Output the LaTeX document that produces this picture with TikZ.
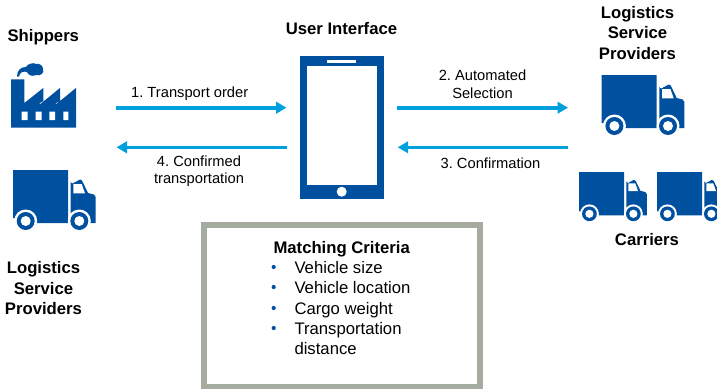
\documentclass[tikz,border=0pt]{standalone}
\usepackage{fontspec}
\setmainfont{Liberation Sans}
\usetikzlibrary{arrows.meta}
\definecolor{iconblue}{HTML}{0050A0}
\definecolor{arrowblue}{HTML}{00A0DC}
\definecolor{boxgray}{HTML}{A6ABA0}
\tikzset{
  head/.style={font=\bfseries\fontsize{16.7}{20.5}\selectfont,align=center,inner sep=0pt,text=black},
  flowlabel/.style={font=\frenchspacing\fontsize{14.7}{17.6}\selectfont,align=center,inner sep=0pt,text=black},
  itemtext/.style={font=\fontsize{16.7}{20}\selectfont,anchor=base west,inner sep=0pt,text=black},
  bulletdot/.style={circle,fill=iconblue,inner sep=0pt,minimum size=4.2pt},
  flow/.style={draw=arrowblue,line width=3.6pt,-{Triangle[length=10.5pt,width=11.5pt]}},
  pics/truck/.style={code={
    \fill[iconblue] (0,0) -- (55,0) -- (55,53) -- (20,53) -- (12.7,48) -- (0,48) -- cycle;
    \fill[iconblue] (57.7,11.5) arc[start angle=180,end angle=90,radius=2] -- (67,9.5)
      .. controls (68.5,9.5) and (69,10.5) .. (69.5,11.5) -- (75,23) -- (81,24.5)
      .. controls (82.5,25) and (82.7,26) .. (82.7,27) -- (82.7,53) -- (57.7,53) -- cycle;
    \fill[white] (60.3,14) -- (68.7,14) -- (72,23.3) -- (60.3,23.3) -- cycle;
    \fill[white] (12.7,51) circle (11.5);
    \fill[white] (66.3,51) circle (11.5);
    \fill[iconblue] (12.7,51) circle (9);
    \fill[iconblue] (66.3,51) circle (9);
    \fill[white] (12.7,51) circle (5);
    \fill[white] (66.3,51) circle (5);
  }},
}
\begin{document}
\begin{tikzpicture}[x=1pt,y=-1pt]
\useasboundingbox (0,0) rectangle (717,388);
\begin{scope}
\clip (0,0) rectangle (717,388);

% factory
\fill[iconblue] (11,79.3) -- (24.3,79.3) -- (24.3,103) -- (43.3,88) -- (43.3,101) -- (39,103.5)
  -- (41,103.5) -- (60,88) -- (60,101) -- (55,103.5) -- (57,103.5) -- (76,88) -- (76,127.7) -- (11,127.7) -- cycle;
\fill[white] (21.7,111.7) rectangle (27.7,120) (35.7,111.7) rectangle (41.7,120)
  (49.3,111.7) rectangle (55,120) (63.3,111.7) rectangle (68.3,120);
\fill[iconblue] (17,76.5) .. controls (17,70) and (21,67) .. (26,67)
  .. controls (27,64) and (34,62) .. (36,64) .. controls (40,63) and (43,66) .. (43,69)
  .. controls (45,73) and (40,76.5) .. (36,75) .. controls (32,77) and (28,75) .. (27,72)
  .. controls (23,71) and (20,72) .. (19,76.5) -- cycle;

% trucks
\pic at (13,170) {truck};
\pic at (601.7,75) {truck};
\pic[scale=.82] at (579,172) {truck};
\pic[scale=.82] at (657,172) {truck};

% phone
\node[fill=iconblue,inner sep=0pt,minimum width=84pt,minimum height=143pt] (phone) at (342,127.5) {};
\fill[white] (307.3,66.3) rectangle (377,185);
\fill[white] (326.7,60) rectangle (356,63);
\fill[white] (341.7,191.7) circle (5);

% criteria box
\node[draw=boxgray,line width=6pt,fill=white,inner sep=0pt,minimum width=275.5pt,minimum height=162.3pt] (criteria) at (342,305.85) {};
\end{scope}

% connectors
\coordinate (leftin) at (116,107.7);
\coordinate (leftinend) at (286.5,107.7);
\coordinate (leftout) at (287,147.3);
\coordinate (leftoutend) at (116.5,147.3);
\coordinate (rightin) at (397.3,107.7);
\coordinate (rightinend) at (568,107.7);
\coordinate (rightout) at (568,147.3);
\coordinate (rightoutend) at (397.7,147.3);
\draw[flow] (leftin) -- (leftinend);
\draw[flow] (leftout) -- (leftoutend);
\draw[flow] (rightin) -- (rightinend);
\draw[flow] (rightout) -- (rightoutend);

% labels
\node[head] (shippers) at (43.3,36.8) {Shippers};
\node[head] (ui) at (341.5,28.5) {User Interface};
\node[head] (lspr) at (637.5,32.7) {Logistics\\Service\\Providers};
\node[head] (lspl) at (43.5,288.3) {Logistics\\Service\\Providers};
\node[head] (carriers) at (647,239.5) {Carriers};
\node[flowlabel,anchor=base] (l1) at (189.7,97) {1. Transport order};
\node[flowlabel] (l2) at (482.5,84) {2. Automated\\Selection};
\node[flowlabel,anchor=base] (l3) at (490.5,168.5) {3. Confirmation};
\node[flowlabel] (l4) at (199,171.3) {4. Confirmed\\transportation};

% criteria text
\node[head,anchor=base] (crit) at (341.7,253.5) {Matching Criteria};
\node[bulletdot] (b1) at (273.7,267) {};
\node[bulletdot] (b2) at (273.7,287) {};
\node[bulletdot] (b3) at (273.7,308) {};
\node[bulletdot] (b4) at (273.7,328) {};
\node[itemtext] (i1) at (294.3,273.3) {Vehicle size};
\node[itemtext] (i2) at (294.3,293.3) {Vehicle location};
\node[itemtext] (i3) at (294.3,314) {Cargo weight};
\node[itemtext] (i4) at (294.3,334) {Transportation};
\node[itemtext] (i5) at (294.3,354) {distance};
\end{tikzpicture}
\end{document}
